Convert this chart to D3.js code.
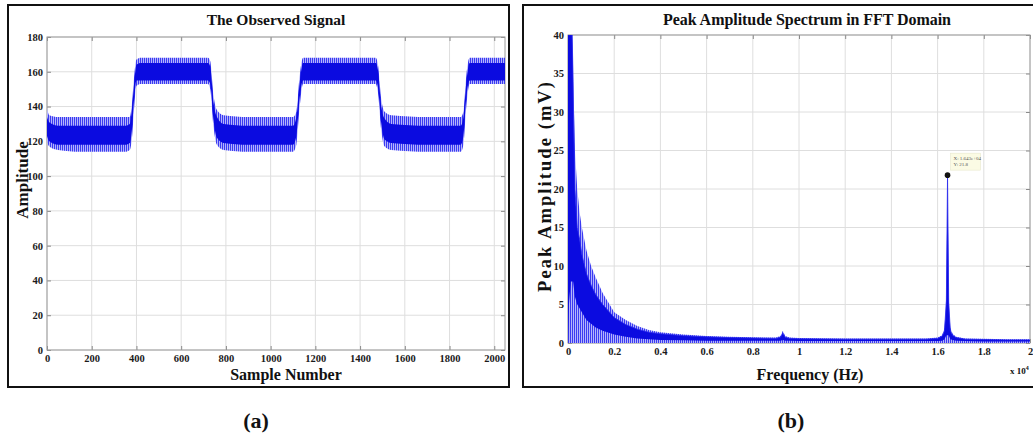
<!DOCTYPE html>
<html>
<head>
<meta charset="utf-8">
<script src="https://cdn.jsdelivr.net/npm/d3@7"></script>
<style>
  body { margin: 0; background: #fff; }
  text { font-family: "Liberation Serif", "DejaVu Serif", serif; font-weight: bold; }
</style>
</head>
<body>
<svg id="chart" width="1033" height="442"></svg>
<script>
// ---- data ----
// (a) observed signal, envelope of the noisy trace
const sampleIdx = [0, 10, 50, 150, 250, 350, 370, 380, 390, 400, 420, 600, 720, 730, 745, 760, 790, 900, 1100, 1115, 1130, 1145, 1300, 1470, 1480, 1495, 1510, 1540, 1700, 1850, 1862, 1875, 1890, 2000, 2048];
const sigMin    = [120, 117, 115, 114, 114, 114, 115, 122, 140, 152, 153, 153, 153, 150, 128, 118, 115, 114, 114, 118, 140, 153, 153, 153, 148, 126, 117, 115, 114, 114, 118, 140, 153, 153, 153];
const sigCoreLo = [123, 120, 118, 118, 118, 118, 119, 127, 145, 155, 155, 155, 155, 153, 132, 122, 119, 118, 118, 123, 145, 155, 155, 155, 151, 130, 121, 119, 118, 118, 123, 145, 155, 155, 155];
const sigCoreHi = [134, 131, 129, 129, 129, 129, 130, 139, 154, 164, 165, 165, 165, 163, 142, 134, 130, 129, 129, 134, 154, 165, 165, 165, 161, 140, 133, 130, 129, 129, 134, 154, 165, 165, 165];
const sigMax    = [139, 135, 134, 134, 134, 134, 134, 142, 158, 167, 168, 168, 168, 166, 146, 138, 135, 134, 134, 137, 158, 168, 168, 168, 164, 144, 137, 135, 134, 134, 137, 158, 168, 168, 168];

// (b) peak amplitude spectrum (frequency in units of 10^4 Hz)
const specFreq = [0, 0.004, 0.012, 0.018, 0.022, 0.026, 0.03, 0.04, 0.05, 0.06, 0.08, 0.1, 0.12, 0.15, 0.18, 0.2, 0.25, 0.3, 0.35, 0.4, 0.5, 0.6, 0.7, 0.8, 0.9, 0.92, 0.93, 0.94, 0.96, 1.0, 1.2, 1.4, 1.55, 1.6, 1.62, 1.63, 1.638, 1.643, 1.648, 1.655, 1.665, 1.68, 1.72, 1.8, 1.9, 2.0];
const specMax  = [40, 40, 40, 40, 36, 30, 25, 20, 17, 15, 12, 10, 8.5, 6.5, 5, 4, 3, 2.2, 1.7, 1.4, 1.1, 0.9, 0.8, 0.75, 0.7, 0.9, 1.6, 0.9, 0.7, 0.65, 0.6, 0.6, 0.6, 0.7, 1.0, 2.0, 6.2, 21.8, 6.0, 2.0, 1.2, 0.8, 0.6, 0.55, 0.5, 0.5];
const specHi   = [40, 40, 40, 40, 34, 26, 20, 15, 13.5, 11.5, 9, 7.5, 6.3, 5, 4, 3.3, 2.4, 1.8, 1.4, 1.2, 0.95, 0.8, 0.7, 0.65, 0.6, 0.75, 1.3, 0.75, 0.6, 0.55, 0.5, 0.5, 0.5, 0.6, 0.9, 1.6, 5.5, 21.8, 5.3, 1.6, 1.0, 0.7, 0.5, 0.45, 0.4, 0.4];
const specLo   = [0, 5, 8, 8, 8, 7, 6, 5, 4.5, 4, 3, 2.5, 2, 1.6, 1.3, 1.1, 0.8, 0.6, 0.5, 0.4, 0.35, 0.3, 0.3, 0.3, 0.3, 0.3, 0.4, 0.3, 0.3, 0.25, 0.25, 0.25, 0.25, 0.25, 0.3, 0.5, 1.0, 1.0, 1.0, 0.5, 0.4, 0.3, 0.25, 0.2, 0.2, 0.2];

const peakTip = { f: 1.643, v: 21.8, label: ["X: 1.643e+04", "Y: 21.8"] };

const sigXTicks = d3.range(0, 2001, 200);
const sigYTicks = d3.range(0, 181, 20);
const specXTicks = d3.range(0, 11).map(i => i * 0.2);
const specYTicks = d3.range(0, 41, 5);

// ---- setup ----
const svg = d3.select("#chart");
const defs = svg.append("defs");

// striped fill to give the noisy look
const pat = defs.append("pattern")
  .attr("id", "stripes")
  .attr("patternUnits", "userSpaceOnUse")
  .attr("width", 2).attr("height", 4);
pat.append("rect").attr("width", 2).attr("height", 4).attr("fill", "#b4b4fb");
pat.append("rect").attr("width", 1).attr("height", 4).attr("fill", "#3a3af2");

// panel frames
svg.append("rect").attr("x", 8).attr("y", 5).attr("width", 501).attr("height", 382)
  .attr("fill", "none").attr("stroke", "#111").attr("stroke-width", 2);
svg.append("rect").attr("x", 523).attr("y", 5).attr("width", 520).attr("height", 382)
  .attr("fill", "none").attr("stroke", "#111").attr("stroke-width", 2);

function drawAxes(g, x, y, xTicks, yTicks, xFmt, yFmt, id) {
  const [x0, x1] = x.range();
  const [y0, y1] = y.range();

  defs.append("clipPath").attr("id", id)
    .append("rect").attr("x", x0).attr("y", y1).attr("width", x1 - x0).attr("height", y0 - y1);

  // grid
  g.append("g").selectAll("line").data(xTicks).join("line")
    .attr("x1", d => x(d)).attr("x2", d => x(d))
    .attr("y1", y0).attr("y2", y1)
    .attr("stroke", "#dedede").attr("stroke-width", 1);
  g.append("g").selectAll("line").data(yTicks).join("line")
    .attr("x1", x0).attr("x2", x1)
    .attr("y1", d => y(d)).attr("y2", d => y(d))
    .attr("stroke", "#dedede").attr("stroke-width", 1);

  const styleAxis = sel => {
    sel.select(".domain").remove();
    sel.selectAll(".tick line").attr("stroke", "#8a8a8a");
    sel.selectAll(".tick text").attr("fill", "#1a1a1a")
      .style("font-family", '"Liberation Serif", serif')
      .style("font-weight", "bold").style("font-size", "10.5px");
  };

  g.append("g").attr("transform", `translate(0,${y0})`)
    .call(d3.axisBottom(x).tickValues(xTicks).tickFormat(xFmt).tickSize(-4).tickPadding(5))
    .call(styleAxis);
  g.append("g").attr("transform", `translate(0,${y1})`)
    .call(d3.axisTop(x).tickValues(xTicks).tickFormat("").tickSize(-4))
    .call(styleAxis);
  g.append("g").attr("transform", `translate(${x0},0)`)
    .call(d3.axisLeft(y).tickValues(yTicks).tickFormat(yFmt).tickSize(-4).tickPadding(4))
    .call(styleAxis);
  g.append("g").attr("transform", `translate(${x1},0)`)
    .call(d3.axisRight(y).tickValues(yTicks).tickFormat("").tickSize(-4))
    .call(styleAxis);

  // axes box
  g.append("rect").attr("x", x0).attr("y", y1).attr("width", x1 - x0).attr("height", y0 - y1)
    .attr("fill", "none").attr("stroke", "#9a9a9a").attr("stroke-width", 1);
}

// ---- (a) observed signal ----
const xL = d3.scaleLinear().domain([0, 2048]).range([47, 505]);
const yL = d3.scaleLinear().domain([0, 180]).range([350, 37]);
const gL = svg.append("g");
drawAxes(gL, xL, yL, sigXTicks, sigYTicks, d3.format("d"), d3.format("d"), "clipL");

const sig = sampleIdx.map((s, i) => ({ s, mn: sigMin[i], lo: sigCoreLo[i], hi: sigCoreHi[i], mx: sigMax[i] }));
const sigPlot = gL.append("g").attr("clip-path", "url(#clipL)");
sigPlot.append("path").datum(sig)
  .attr("fill", "url(#stripes)")
  .attr("d", d3.area().curve(d3.curveMonotoneX).x(d => xL(d.s)).y0(d => yL(d.mn)).y1(d => yL(d.mx)));
sigPlot.append("path").datum(sig)
  .attr("fill", "#0b0be0")
  .attr("d", d3.area().curve(d3.curveMonotoneX).x(d => xL(d.s)).y0(d => yL(d.lo)).y1(d => yL(d.hi)));

gL.append("text").attr("x", 276).attr("y", 25).attr("text-anchor", "middle")
  .style("font-size", "15.5px").attr("fill", "#111").text("The Observed Signal");
gL.append("text").attr("x", 286).attr("y", 380).attr("text-anchor", "middle")
  .style("font-size", "16px").attr("fill", "#111").text("Sample Number");
gL.append("text").attr("transform", "translate(28,180) rotate(-90)").attr("text-anchor", "middle")
  .style("font-size", "17px").attr("fill", "#111").text("Amplitude");

// ---- (b) spectrum ----
const xR = d3.scaleLinear().domain([0, 2]).range([568, 1030]);
const yR = d3.scaleLinear().domain([0, 40]).range([343, 35]);
const gR = svg.append("g");
drawAxes(gR, xR, yR, specXTicks, specYTicks, d => d3.format("~g")(+d.toFixed(1)), d3.format("d"), "clipR");

const spec = specFreq.map((f, i) => ({ f, mx: specMax[i], hi: specHi[i], lo: specLo[i] }));
const specPlot = gR.append("g").attr("clip-path", "url(#clipR)");
specPlot.append("path").datum(spec)
  .attr("fill", "url(#stripes)")
  .attr("d", d3.area().x(d => xR(d.f)).y0(yR(0)).y1(d => yR(d.mx)));
specPlot.append("path").datum(spec)
  .attr("fill", "#0b0be0")
  .attr("d", d3.area().x(d => xR(d.f)).y0(d => yR(d.lo)).y1(d => yR(d.hi)));
specPlot.append("path").datum(spec)
  .attr("fill", "none").attr("stroke", "#2a2aee").attr("stroke-width", 0.8)
  .attr("d", d3.line().x(d => xR(d.f)).y(d => yR(d.hi)));

// data tip
const tipX = xR(peakTip.f), tipY = yR(peakTip.v);
gR.append("rect").attr("x", tipX + 3).attr("y", tipY - 22).attr("width", 30).attr("height", 17)
  .attr("fill", "#fbfbe4").attr("stroke", "#e4e4c8").attr("stroke-width", 0.5);
gR.selectAll("text.tip").data(peakTip.label).join("text").attr("class", "tip")
  .attr("x", tipX + 6).attr("y", (d, i) => tipY - 15 + i * 6)
  .style("font-size", "5px").style("font-weight", "normal").attr("fill", "#555").text(d => d);
gR.append("circle").attr("cx", tipX).attr("cy", tipY).attr("r", 2.8).attr("fill", "#111");

gR.append("text").attr("x", 807).attr("y", 25).attr("text-anchor", "middle")
  .style("font-size", "16px").attr("textLength", 288).attr("fill", "#111")
  .text("Peak Amplitude Spectrum in FFT Domain");
gR.append("text").attr("x", 810).attr("y", 380).attr("text-anchor", "middle")
  .style("font-size", "16px").attr("fill", "#111").text("Frequency (Hz)");
gR.append("text").attr("transform", "translate(551,187) rotate(-90)").attr("text-anchor", "middle")
  .style("font-size", "18.5px").attr("textLength", 210).attr("fill", "#111").text("Peak Amplitude (mV)");
const mult = gR.append("text").attr("x", 1010).attr("y", 374).style("font-size", "9px").attr("fill", "#111");
mult.append("tspan").text("x 10");
mult.append("tspan").attr("dy", -4).style("font-size", "6px").text("4");

// captions
svg.append("text").attr("x", 256).attr("y", 428).attr("text-anchor", "middle")
  .style("font-size", "22px").attr("fill", "#111").text("(a)");
svg.append("text").attr("x", 791).attr("y", 428).attr("text-anchor", "middle")
  .style("font-size", "22px").attr("fill", "#111").text("(b)");
</script>
</body>
</html>
